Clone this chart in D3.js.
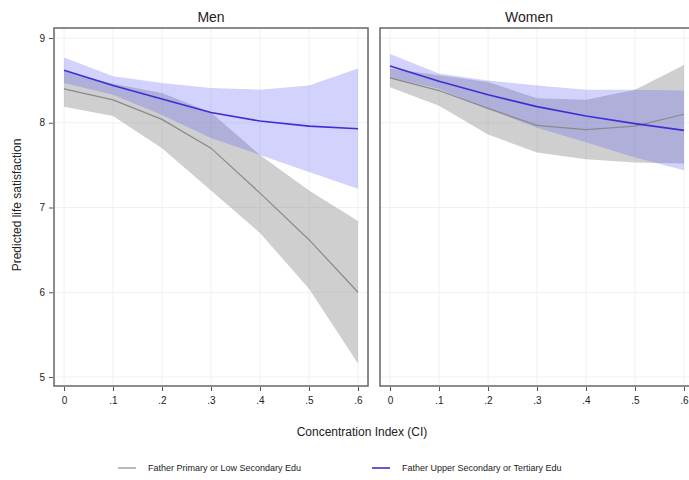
<!DOCTYPE html>
<html>
<head>
<meta charset="utf-8">
<script src="https://cdn.jsdelivr.net/npm/d3@7"></script>
<style>
  body { margin: 0; background: #fff; }
  text { font-family: "Liberation Sans", Arial, sans-serif; fill: #222; }
</style>
</head>
<body>
<div id="chart"></div>
<script>
// concentration index values where margins were computed
var ci = [0, .1, .2, .3, .4, .5, .6];
var ciLabels = ["0", ".1", ".2", ".3", ".4", ".5", ".6"];
var yTicks = [5, 6, 7, 8, 9];
var panels = ["Men", "Women"];
var seriesNames = ["Father Primary or Low Secondary Edu", "Father Upper Secondary or Tertiary Edu"];

// Men
var menLowFit  = [8.40, 8.27, 8.04, 7.70, 7.17, 6.62, 6.00];
var menLowLo   = [8.19, 8.08, 7.70, 7.20, 6.70, 6.04, 5.16];
var menLowHi   = [8.61, 8.46, 8.35, 8.12, 7.62, 7.20, 6.84];
var menHighFit = [8.62, 8.44, 8.28, 8.12, 8.02, 7.96, 7.93];
var menHighLo  = [8.47, 8.33, 8.09, 7.82, 7.62, 7.42, 7.22];
var menHighHi  = [8.77, 8.55, 8.47, 8.41, 8.39, 8.44, 8.64];

// Women
var womenLowFit  = [8.53, 8.38, 8.17, 7.97, 7.92, 7.96, 8.10];
var womenLowLo   = [8.42, 8.20, 7.86, 7.65, 7.57, 7.53, 7.52];
var womenLowHi   = [8.64, 8.56, 8.48, 8.29, 8.27, 8.39, 8.68];
var womenHighFit = [8.67, 8.49, 8.33, 8.19, 8.08, 7.99, 7.91];
var womenHighLo  = [8.53, 8.40, 8.16, 7.94, 7.77, 7.59, 7.44];
var womenHighHi  = [8.81, 8.58, 8.50, 8.44, 8.39, 8.39, 8.38];

var panelData = [
  [{fit: menLowFit, lo: menLowLo, hi: menLowHi}, {fit: menHighFit, lo: menHighLo, hi: menHighHi}],
  [{fit: womenLowFit, lo: womenLowLo, hi: womenLowHi}, {fit: womenHighFit, lo: womenHighLo, hi: womenHighHi}]
];

var width = 689, height = 480;
var plotTop = 28, plotBottom = 386;
var frames = [{x0: 54, x1: 368}, {x0: 380, x1: 694}];
var bandFill = ["rgba(140,140,140,0.42)", "rgba(95,95,245,0.28)"];
var lineCol = ["#8a8a8a", "#3b2fd6"];

var svg = d3.select("#chart").append("svg")
  .attr("width", width)
  .attr("height", height);

var y = d3.scaleLinear().domain([5, 9]).range([377, 38]);

panels.forEach(function(name, p) {
  var f = frames[p];
  var x = d3.scaleLinear().domain([0, .6]).range([f.x0 + 10, f.x1 - 10]);
  var g = svg.append("g");

  // grid
  g.selectAll(".vgrid").data(ci).enter().append("line")
    .attr("x1", function(d) { return x(d); })
    .attr("x2", function(d) { return x(d); })
    .attr("y1", plotTop).attr("y2", plotBottom)
    .attr("stroke", "#f0f0f0").attr("stroke-width", 1);
  g.selectAll(".hgrid").data(yTicks).enter().append("line")
    .attr("x1", f.x0).attr("x2", f.x1)
    .attr("y1", function(d) { return y(d); })
    .attr("y2", function(d) { return y(d); })
    .attr("stroke", "#f0f0f0").attr("stroke-width", 1);

  var area = d3.area()
    .x(function(d, i) { return x(ci[i]); })
    .y0(function(d) { return y(d[0]); })
    .y1(function(d) { return y(d[1]); });
  var line = d3.line()
    .x(function(d, i) { return x(ci[i]); })
    .y(function(d) { return y(d); });

  panelData[p].forEach(function(s, k) {
    g.append("path")
      .datum(s.lo.map(function(v, i) { return [v, s.hi[i]]; }))
      .attr("d", area)
      .attr("fill", bandFill[k]);
  });
  panelData[p].forEach(function(s, k) {
    g.append("path")
      .datum(s.fit)
      .attr("d", line)
      .attr("fill", "none")
      .attr("stroke", lineCol[k])
      .attr("stroke-width", k == 1 ? 1.6 : 1.2);
  });

  // frame
  g.append("rect")
    .attr("x", f.x0).attr("y", plotTop)
    .attr("width", f.x1 - f.x0).attr("height", plotBottom - plotTop)
    .attr("fill", "none").attr("stroke", "#666").attr("stroke-width", 1.5);

  var xAxis = d3.axisBottom(x).tickValues(ci)
    .tickFormat(function(d, i) { return ciLabels[i]; })
    .tickSize(4).tickPadding(6);
  var ax = g.append("g")
    .attr("transform", "translate(0," + (plotBottom + 1) + ")")
    .call(xAxis);
  ax.select(".domain").remove();
  ax.selectAll("line").attr("stroke", "#555");
  ax.selectAll("text").attr("font-size", 10).style("fill", "#222");

  if (p == 0) {
    var yAxis = d3.axisLeft(y).tickValues(yTicks).tickFormat(d3.format("d"))
      .tickSize(4).tickPadding(4);
    var ay = g.append("g")
      .attr("transform", "translate(" + (f.x0 - 1) + ",0)")
      .call(yAxis);
    ay.select(".domain").remove();
    ay.selectAll("line").attr("stroke", "#555");
    ay.selectAll("text").attr("font-size", 10).style("fill", "#222");
  }

  g.append("text")
    .attr("x", p == 0 ? (f.x0 + f.x1) / 2 : 529)
    .attr("y", 22)
    .attr("text-anchor", "middle")
    .attr("font-size", 14)
    .text(name);
});

svg.append("text")
  .attr("transform", "translate(21,205) rotate(-90)")
  .attr("text-anchor", "middle")
  .attr("font-size", 12)
  .text("Predicted life satisfaction");

svg.append("text")
  .attr("x", 362).attr("y", 436)
  .attr("text-anchor", "middle")
  .attr("font-size", 12)
  .text("Concentration Index (CI)");

// legend
var legX = [118, 372];
var legend = svg.selectAll(".legend")
  .data(seriesNames)
  .enter().append("g")
  .attr("class", "legend")
  .attr("transform", function(d, i) { return "translate(" + legX[i] + ",468)"; });
legend.append("line")
  .attr("x1", 0).attr("x2", 18)
  .attr("stroke", function(d, i) { return lineCol[i]; })
  .attr("stroke-width", function(d, i) { return i == 1 ? 1.6 : 1.2; });
legend.append("text")
  .attr("x", 30).attr("y", 3)
  .attr("font-size", 9)
  .text(function(d) { return d; });
</script>
</body>
</html>
